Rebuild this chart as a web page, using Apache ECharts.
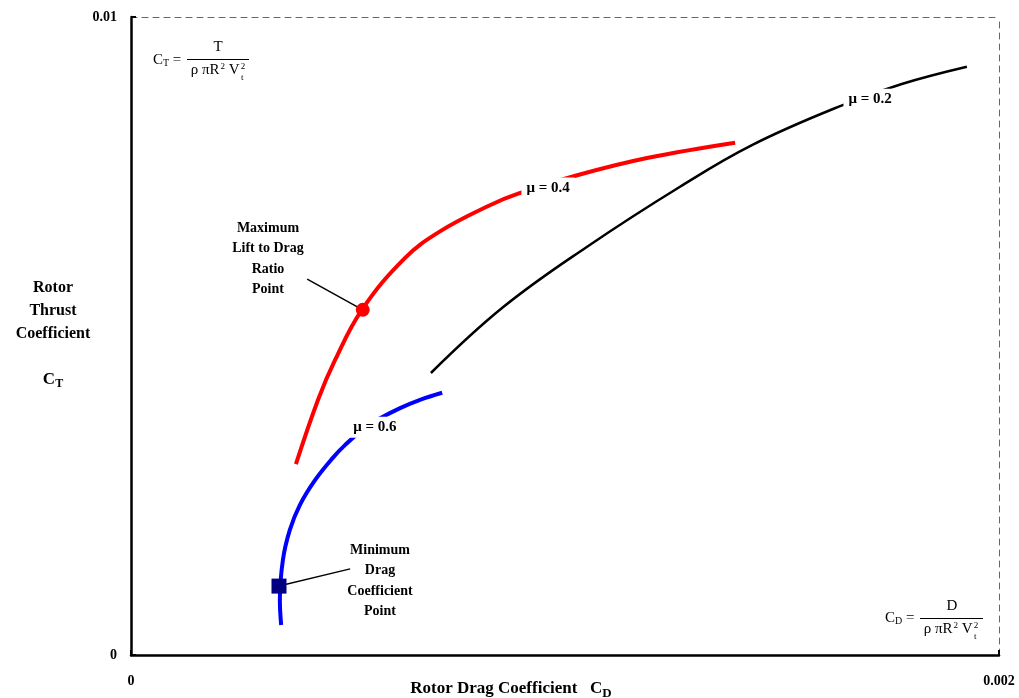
<!DOCTYPE html>
<html><head><meta charset="utf-8">
<script src="https://cdn.jsdelivr.net/npm/echarts@6/dist/echarts.min.js"></script>
<style>html,body{margin:0;padding:0;background:#fff}#c{width:1019px;height:698px}</style>
</head><body><div id="c"></div>
<script>
// Data (Rotor drag coefficient CD, rotor thrust coefficient CT)
const mu02_cd = [0.000691,0.000857,0.001051,0.001265,0.001433,0.00164,0.001776,0.001926];
const mu02_ct = [0.00442,0.00545,0.0064,0.00734,0.0080,0.00862,0.00895,0.00922];
const mu04_cd = [0.00038,0.000431,0.00047,0.000532,0.000631,0.000712,0.000827,0.000892,0.001028,0.001189,0.001392];
const mu04_ct = [0.00299,0.0040,0.00462,0.00541,0.00622,0.00664,0.00705,0.00723,0.00752,0.00779,0.00803];
const mu06_cd = [0.000346,0.000343,0.00035,0.000366,0.000389,0.000424,0.000465,0.000493,0.000539,0.000574,0.00062,0.000666,0.000717];
const mu06_ct = [0.00047,0.00086,0.00149,0.00196,0.00235,0.00274,0.00309,0.00329,0.00356,0.00371,0.00387,0.0040,0.00411];
const curveLabels = ['\u03bc = 0.2','\u03bc = 0.4','\u03bc = 0.6'];
const curveLabelPos = [[0.001703,0.00871],[0.000961,0.00732],[0.000562,0.00357]];
const maxLDPoint = [0.000534,0.00541];
const minDragPoint = [0.000341,0.00108];
const maxLDLeader = [[0.000406,0.00589],[0.000534,0.00541]];
const minDragLeader = [[0.000505,0.00135],[0.000341,0.00108]];
const xTicks = [0, 0.002];
const yTicks = [0, 0.01];

const zip = (a,b)=>a.map((v,i)=>[v,b[i]]);
const F = '"Liberation Serif", "Times New Roman", serif';
const chart = echarts.init(document.getElementById('c'));
const axisLabelFmt = v => (v===0?'0':String(v));
chart.setOption({
  animation:false,
  backgroundColor:'#fff',
  grid:{left:131,right:20,top:17,bottom:43,containLabel:false,outerBoundsMode:'none'},
  xAxis:[{
    type:'value',min:xTicks[0],max:xTicks[1],interval:0.002,
    axisLine:{show:true,onZero:false,lineStyle:{color:'#000',width:2.5}},
    axisTick:{show:true,inside:true,length:5,lineStyle:{color:'#000',width:2}},
    axisLabel:{formatter:axisLabelFmt,margin:19,fontFamily:F,fontWeight:'bold',fontSize:14,color:'#000'},
    splitLine:{show:false}
  },{
    type:'value',position:'top',min:0,max:0.002,
    axisLine:{show:true,onZero:false,lineStyle:{color:'#666',width:1,type:[6,5]}},
    axisTick:{show:false},axisLabel:{show:false},splitLine:{show:false}
  }],
  yAxis:[{
    type:'value',min:yTicks[0],max:yTicks[1],interval:0.01,
    axisLine:{show:true,onZero:false,lineStyle:{color:'#000',width:2.5}},
    axisTick:{show:true,inside:true,length:5,lineStyle:{color:'#000',width:2}},
    axisLabel:{formatter:axisLabelFmt,margin:14,fontFamily:F,fontWeight:'bold',fontSize:14,color:'#000'},
    splitLine:{show:false}
  },{
    type:'value',position:'right',min:0,max:0.01,
    axisLine:{show:true,onZero:false,lineStyle:{color:'#666',width:1,type:[6,5]}},
    axisTick:{show:false},axisLabel:{show:false},splitLine:{show:false}
  }],
  series:[
    {type:'line',data:zip(mu02_cd,mu02_ct),smooth:0.4,symbol:'none',lineStyle:{color:'#000',width:2.5},z:2},
    {type:'line',data:zip(mu04_cd,mu04_ct),smooth:0.4,symbol:'none',lineStyle:{color:'#ff0000',width:4},z:2},
    {type:'line',data:zip(mu06_cd,mu06_ct),smooth:0.4,symbol:'none',lineStyle:{color:'#0000ff',width:4},z:2},
    {type:'line',data:maxLDLeader,symbol:'none',lineStyle:{color:'#000',width:1.5},z:3},
    {type:'line',data:minDragLeader,symbol:'none',lineStyle:{color:'#000',width:1.5},z:3},
    {type:'scatter',data:[maxLDPoint],symbol:'circle',symbolSize:14,itemStyle:{color:'#ff0000',opacity:1},z:4},
    {type:'scatter',data:[minDragPoint],symbol:'rect',symbolSize:15,itemStyle:{color:'#000080',opacity:1},z:4},
    {type:'scatter',symbolSize:1,z:10,itemStyle:{opacity:0},
      data:curveLabelPos.map((p,i)=>({value:p,name:curveLabels[i]})),
      label:{show:true,position:'inside',formatter:p=>p.name,backgroundColor:'#ffffff',padding:[3,5],opacity:1,
        fontFamily:F,fontWeight:'bold',fontSize:15,color:'#000'}}
  ],
  graphic:[
    {type:'text',x:511,y:678,style:{text:'{a|Rotor Drag Coefficient   C}{s|D}',align:'center',rich:{a:{fontFamily:F,fontWeight:'bold',fontSize:17,fill:'#000'},s:{fontFamily:F,fontWeight:'bold',fontSize:13,fill:'#000',padding:[9,0,0,0]}}}},
    {type:'text',x:53,y:276,style:{text:'Rotor\nThrust\nCoefficient',fontFamily:F,fontWeight:'bold',fontSize:16,lineHeight:23,fill:'#000',align:'center'}},
    {type:'text',x:53,y:370,style:{text:'{a|C}{s|T}',fontFamily:F,fill:'#000',align:'center',rich:{a:{fontFamily:F,fontWeight:'bold',fontSize:17,fill:'#000'},s:{fontFamily:F,fontWeight:'bold',fontSize:12,fill:'#000',padding:[8,0,0,0]}}}},
    {type:'text',x:268,y:218,style:{text:'Maximum\nLift to Drag\nRatio\nPoint',fontFamily:F,fontWeight:'bold',fontSize:14,lineHeight:20.5,fill:'#000',align:'center'}},
    {type:'text',x:380,y:540,style:{text:'Minimum\nDrag\nCoefficient\nPoint',fontFamily:F,fontWeight:'bold',fontSize:14,lineHeight:20.5,fill:'#000',align:'center'}},
    // CT formula
    {type:'text',x:153,y:52,style:{text:'{a|C}{s|T}{a| =}',rich:{a:{fontFamily:F,fontSize:15,fill:'#000'},s:{fontFamily:F,fontSize:10,fill:'#000',padding:[6,0,0,0]}}}},
    {type:'text',x:218,y:40,style:{text:'T',fontFamily:F,fontSize:15,fill:'#000',align:'center'}},
    {type:'line',shape:{x1:187,y1:59.5,x2:249,y2:59.5},style:{stroke:'#000',lineWidth:1}},
    {type:'text',x:218,y:62,style:{text:'{a|\u03c1 \u03c0R}{p|2}{a| V}{p|2}',align:'center',rich:{a:{fontFamily:F,fontSize:15,fill:'#000'},p:{fontFamily:F,fontSize:9,fill:'#000',padding:[0,0,8,1]}}}},
    {type:'text',x:241,y:73,style:{text:'t',fontFamily:F,fontSize:9,fill:'#000'}},
    // CD formula
    {type:'text',x:885,y:610,style:{text:'{a|C}{s|D}{a| =}',rich:{a:{fontFamily:F,fontSize:15,fill:'#000'},s:{fontFamily:F,fontSize:10,fill:'#000',padding:[6,0,0,0]}}}},
    {type:'text',x:952,y:599,style:{text:'D',fontFamily:F,fontSize:15,fill:'#000',align:'center'}},
    {type:'line',shape:{x1:920,y1:618.5,x2:983,y2:618.5},style:{stroke:'#000',lineWidth:1}},
    {type:'text',x:951,y:621,style:{text:'{a|\u03c1 \u03c0R}{p|2}{a| V}{p|2}',align:'center',rich:{a:{fontFamily:F,fontSize:15,fill:'#000'},p:{fontFamily:F,fontSize:9,fill:'#000',padding:[0,0,8,1]}}}},
    {type:'text',x:974,y:632,style:{text:'t',fontFamily:F,fontSize:9,fill:'#000'}}
  ]
});
</script></body></html>
